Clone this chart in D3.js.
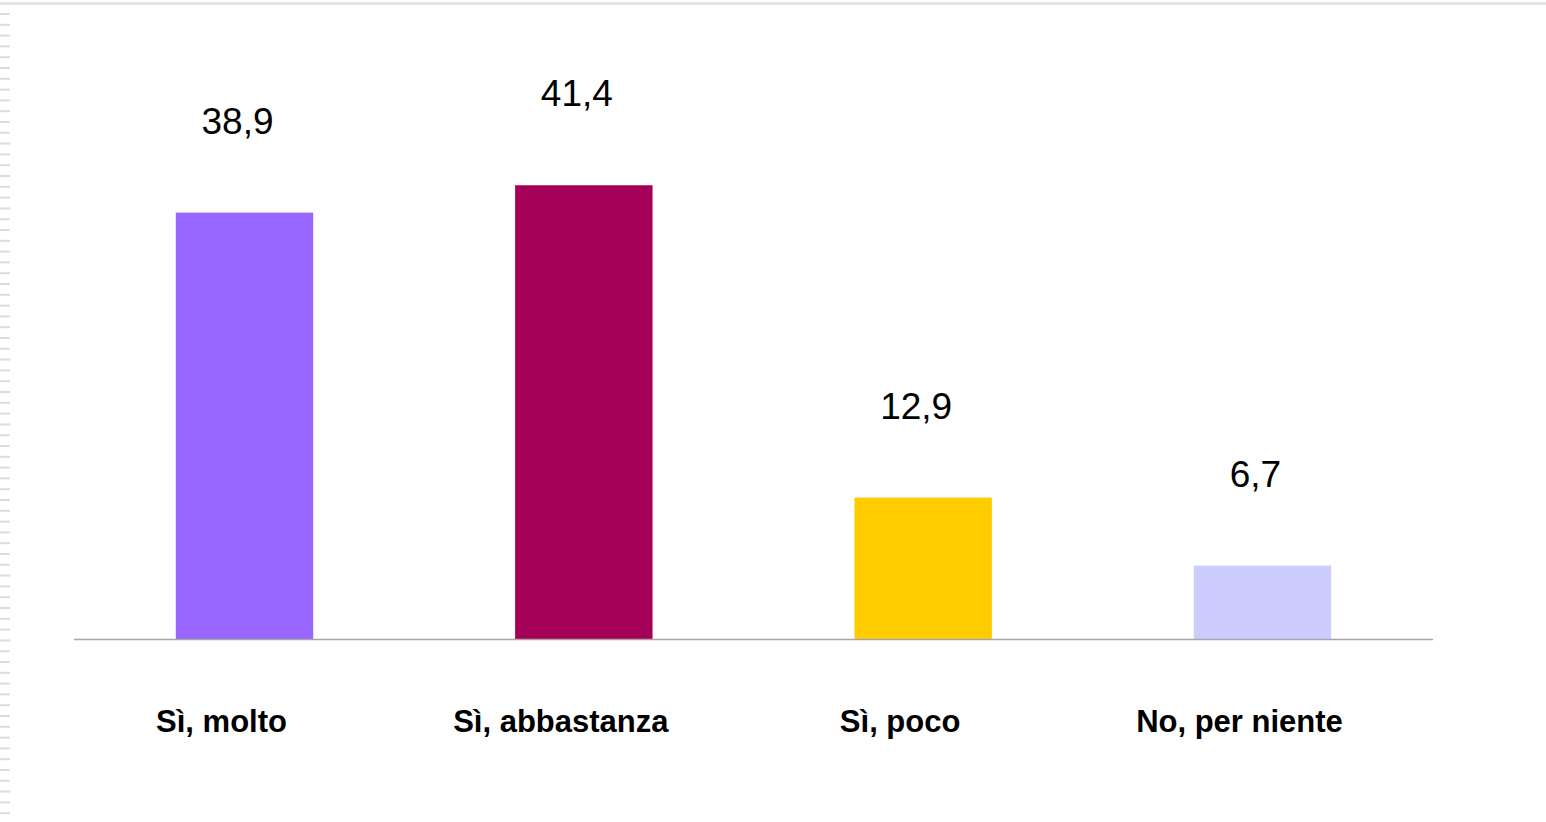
<!DOCTYPE html>
<html><head><meta charset="utf-8">
<script src="https://cdn.jsdelivr.net/npm/d3@7"></script>
<style>html,body{margin:0;padding:0;background:#fff;overflow:hidden}</style>
</head><body>
<svg id="chart" width="1546" height="822"></svg>
<script>
const categories = ["Sì, molto", "Sì, abbastanza", "Sì, poco", "No, per niente"];
const values = [38.9, 41.4, 12.9, 6.7];
const valueLabels = ["38,9", "41,4", "12,9", "6,7"];
const colors = ["#9966FF", "#A50058", "#FFCC00", "#CCCCFF"];

const svg = d3.select("#chart");
const W = 1546, H = 822;
const margin = {left: 74, right: 113, top: 92, bottom: 183};
const baseY = H - margin.bottom;

// top border
svg.append("rect").attr("x", 0).attr("y", 2).attr("width", W).attr("height", 3).attr("fill", "#e6e6e6");
// left dashed edge
const dashes = d3.range(13, H, 10.8);
svg.append("g").selectAll("rect").data(dashes).join("rect")
  .attr("x", 0).attr("y", d => d).attr("width", 10).attr("height", 2).attr("fill", "#dcdcdc");

const x = d3.scaleBand().domain(categories).range([margin.left, W - margin.right]).paddingInner(0.595).paddingOuter(0.3);
const y = d3.scaleLinear().domain([0, 50]).range([baseY, baseY - 548]);

svg.append("g").selectAll("rect").data(values).join("rect")
  .attr("x", (d, i) => x(categories[i]))
  .attr("y", d => y(d))
  .attr("width", x.bandwidth())
  .attr("height", d => baseY - y(d))
  .attr("fill", (d, i) => colors[i]);

svg.append("line").attr("x1", margin.left).attr("x2", W - margin.right)
  .attr("y1", baseY + 0.5).attr("y2", baseY + 0.5).attr("stroke", "#a6a6a6").attr("stroke-width", 1.5);

svg.append("g").selectAll("text").data(values).join("text")
  .attr("x", (d, i) => x(categories[i]) + x.bandwidth() / 2 - 7)
  .attr("y", d => y(d) - 79)
  .attr("text-anchor", "middle")
  .attr("font-family", "Liberation Sans, Arial, sans-serif")
  .attr("font-size", 37)
  .attr("fill", "#000")
  .text((d, i) => valueLabels[i]);

svg.append("g").selectAll("text").data(categories).join("text")
  .attr("x", d => x(d) + x.bandwidth() / 2 - 23)
  .attr("y", baseY + 93)
  .attr("text-anchor", "middle")
  .attr("font-family", "Liberation Sans, Arial, sans-serif")
  .attr("font-weight", "bold")
  .attr("font-size", 31)
  .attr("fill", "#000")
  .text(d => d);
</script>
</body></html>
